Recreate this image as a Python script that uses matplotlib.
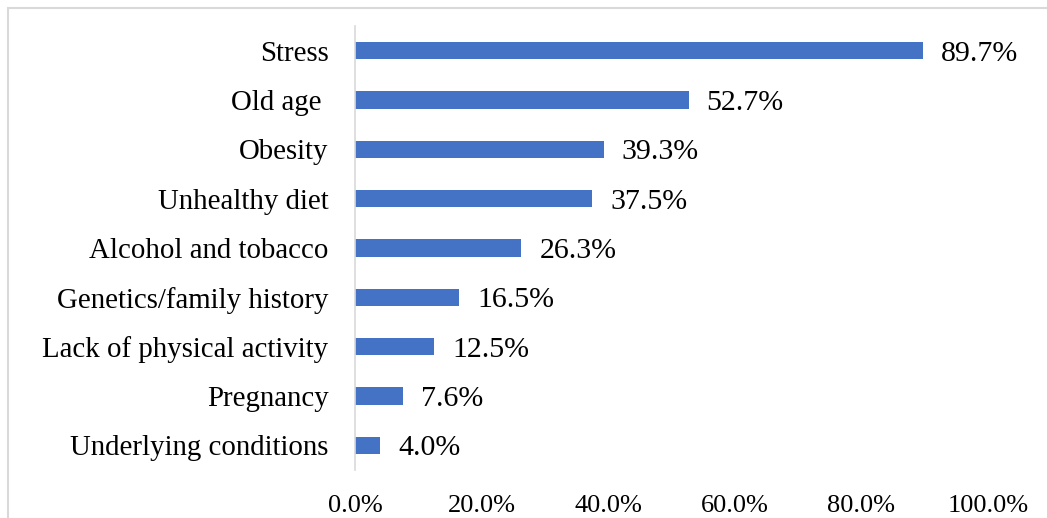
import matplotlib.pyplot as plt
from matplotlib.patches import Rectangle
from matplotlib.ticker import FuncFormatter

# risk factors, listed bottom to top
factors = ["Underlying conditions", "Pregnancy", "Lack of physical activity",
           "Genetics/family history", "Alcohol and tobacco", "Unhealthy diet",
           "Obesity", "Old age ", "Stress"]
percent = [4.0, 7.6, 12.5, 16.5, 26.3, 37.5, 39.3, 52.7, 89.7]
xticks = [0, 20, 40, 60, 80, 100]

plt.rcParams['font.family'] = ['Liberation Serif', 'DejaVu Serif']

fig = plt.figure(figsize=(10.47, 5.18), dpi=100)
ax = fig.add_axes([355 / 1047, 48 / 518, 633 / 1047, 444 / 518])

ax.barh(range(len(factors)), percent, height=0.35, color='#4472C4')
for i, v in enumerate(percent):
    ax.annotate(f"{v:.1f}%", (v, i), xytext=(13, 0), textcoords='offset points',
                va='center_baseline', ha='left', fontsize=21.5)

ax.set_yticks(range(len(factors)))
ax.set_yticklabels(factors, fontsize=20.8)
ax.set_ylim(-0.5, len(factors) - 0.5)
ax.set_xlim(0, 100)
ax.set_xticks(xticks)
ax.xaxis.set_major_formatter(FuncFormatter(lambda v, p: f"{v:.1f}%"))
ax.tick_params(axis='x', length=0, labelsize=19, pad=18)
ax.tick_params(axis='y', length=0, pad=19)

for s in ['top', 'right', 'bottom']:
    ax.spines[s].set_visible(False)
ax.spines['left'].set_color('#d9d9d9')
ax.spines['left'].set_linewidth(1.2)

# chart frame, cut off at the right and bottom edges
fig.patches.append(Rectangle((8 / 1047, -0.1), 1.2, 1 - 8 / 518 + 0.1,
                             transform=fig.transFigure, fill=False,
                             edgecolor='#d9d9d9', linewidth=1.5))

fig.savefig('out.png', dpi=100)
